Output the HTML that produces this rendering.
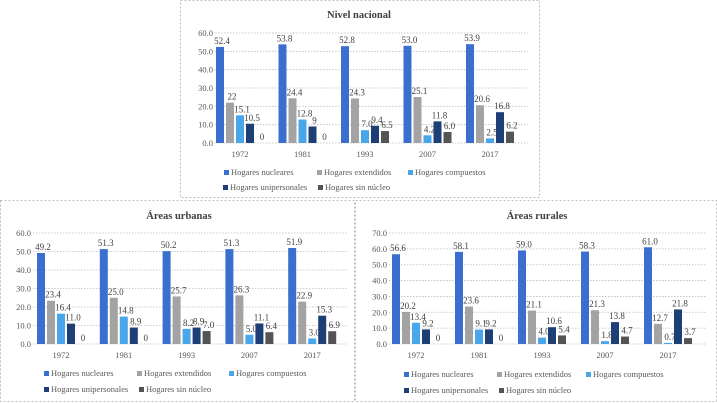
<!DOCTYPE html>
<html><head><meta charset="utf-8">
<style>
body{margin:0;background:#fff;}
svg{display:block;font-family:"Liberation Serif",serif;}
</style></head>
<body>
<svg id="s" width="717" height="403" viewBox="0 0 717 403" xmlns="http://www.w3.org/2000/svg"></svg>
<script>
const categories=["1972","1981","1993","2007","2017"];
const seriesNames=["Hogares nucleares","Hogares extendidos","Hogares compuestos","Hogares unipersonales","Hogares sin núcleo"];
const colors=["#3b6fcf","#a3a3a3","#4aa6ea","#1e3f75","#545454"];
const natNuc=[52.4,53.8,52.8,53.0,53.9];
const natExt=[22,24.4,24.3,25.1,20.6];
const natComp=[15.1,12.8,7.0,4.2,2.5];
const natUni=[10.5,9,9.4,11.8,16.8];
const natSin=[0,0,6.5,6.0,6.2];
const urbNuc=[49.2,51.3,50.2,51.3,51.9];
const urbExt=[23.4,25.0,25.7,26.3,22.9];
const urbComp=[16.4,14.8,8.2,5.0,3.0];
const urbUni=[11.0,8.9,8.9,11.1,15.3];
const urbSin=[0,0,7.0,6.4,6.9];
const rurNuc=[56.6,58.1,59.0,58.3,61.0];
const rurExt=[20.2,23.6,21.1,21.3,12.7];
const rurComp=[13.4,9.1,4.0,1.8,0.7];
const rurUni=[9.2,9.2,10.6,13.8,21.8];
const rurSin=[0,0,5.4,4.7,3.7];
const natTicks=["0.0","10.0","20.0","30.0","40.0","50.0","60.0"];
const urbTicks=["0.0","10.0","20.0","30.0","40.0","50.0","60.0"];
const rurTicks=["0.0","10.0","20.0","30.0","40.0","50.0","60.0","70.0"];

const NS="http://www.w3.org/2000/svg";
const svg=document.getElementById('s');
function mk(tag,attrs,parent,text){const e=document.createElementNS(NS,tag);for(const k in attrs)e.setAttribute(k,attrs[k]);if(text!==undefined)e.textContent=text;(parent||svg).appendChild(e);return e;}

function chart(cfg){
  const fmt=v=>v===0?"0":(cfg.rawInts&&Number.isInteger(v)&&(v===22||v===9))?String(v):v.toFixed(1);
  const g=mk('g',{});
  
  
  const box=mk('rect',{x:cfg.box[0]+0.5,y:cfg.box[1]+0.5,width:cfg.box[2]-1,height:cfg.box[3]-1,fill:'#fff',stroke:'#bfbfbf','stroke-dasharray':'2,2'},g);
  
  
  const t=mk('text',{x:cfg.titleX,y:cfg.titleY,'text-anchor':'middle','font-size':'10.5','font-weight':'bold',fill:'#404040'},g,cfg.title);
  
  
  const yv=v=>cfg.y0-(v/cfg.max)*(cfg.y0-cfg.yTop);
  const xc=i=>cfg.c0+i*cfg.sp;
  cfg.ticks.forEach((lab,i)=>{
    const v=parseFloat(lab);const y=yv(v);
    const ln=mk('line',{x1:cfg.gx0,x2:cfg.gx1,y1:y,y2:y,stroke:'#bdbdbd','stroke-width':0.8,'stroke-dasharray':'1.5,1.5'},g);
    
    
    const tx=mk('text',{x:cfg.gx0-2,y:y+3,'text-anchor':'end','font-size':'8.5',fill:'#595959'},g,lab);
    
    
  });
  const bw=8,pitch=10;
  cfg.series.forEach((arr,s)=>{
    arr.forEach((v,i)=>{
      const x=xc(i)-2*pitch-bw/2+s*pitch;
      const y=yv(v);
      const r=mk('rect',{x:x,y:y,width:bw,height:Math.max(0,cfg.y0-y),fill:colors[s]},g);
      
      
      const lt=mk('text',{x:x+bw/2+2,y:y-3,'text-anchor':'middle','font-size':'9',fill:'#404040'},g,fmt(v));
      
      
    });
  });
  categories.forEach((c,i)=>{
    const tx=mk('text',{x:xc(i),y:cfg.y0+14,'text-anchor':'middle','font-size':'8.5',fill:'#595959'},g,c);
    
    
  });
  cfg.legend.forEach((p,s)=>{
    const lg=mk('g',{},g);
    
    
    mk('rect',{x:p[0],y:p[1]-5,width:5,height:5,fill:colors[s]},lg);
    mk('text',{x:p[0]+7,y:p[1],'font-size':'8.5',fill:'#595959'},lg,seriesNames[s]);
  });
}
chart({name:'chart-nacional',title:'Nivel nacional',box:[180,0,360,198],titleX:359,titleY:18,rawInts:true,
  series:[natNuc,natExt,natComp,natUni,natSin],ticks:natTicks,max:60,y0:143,yTop:33,gx0:215,gx1:528,c0:240,sp:62.5,
  legend:[[224,175],[317,175],[408,175],[223,190],[318,190]]});
chart({name:'chart-urbanas',title:'Áreas urbanas',box:[0,200,355,202],titleX:179,titleY:219,
  series:[urbNuc,urbExt,urbComp,urbUni,urbSin],ticks:urbTicks,max:60,y0:344,yTop:233,gx0:33,gx1:348,c0:61,sp:62.8,
  legend:[[44,376],[137,376],[229,376],[44,392],[139,392]]});
chart({name:'chart-rurales',title:'Áreas rurales',box:[355,200,362,202],titleX:537,titleY:219,
  series:[rurNuc,rurExt,rurComp,rurUni,rurSin],ticks:rurTicks,max:70,y0:344,yTop:233,gx0:389,gx1:706,c0:416,sp:63,
  legend:[[404,377],[497,377],[586,377],[404,393],[499,393]]});
</script>
</body></html>
